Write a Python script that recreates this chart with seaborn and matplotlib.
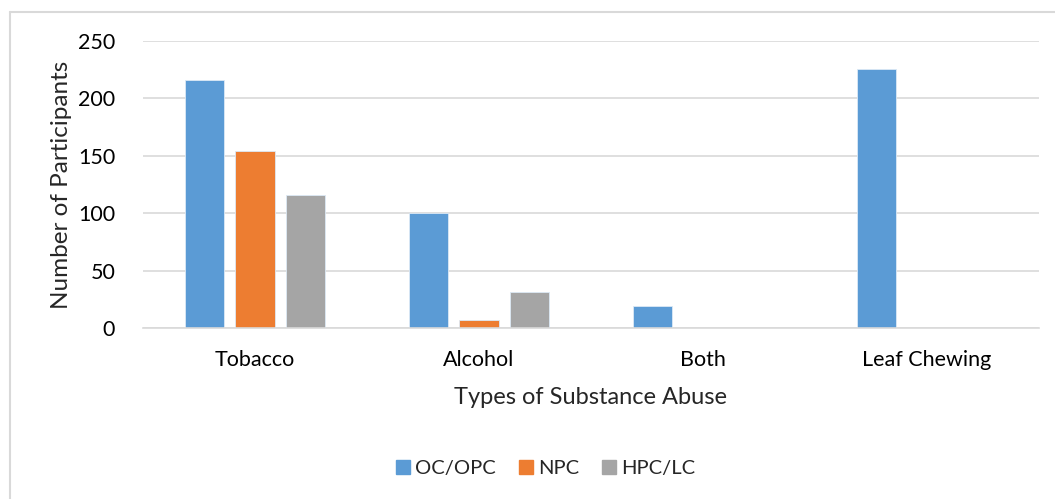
import numpy as np
import pandas as pd
import matplotlib
matplotlib.use("Agg")
import matplotlib.pyplot as plt
from matplotlib.lines import Line2D
import seaborn as sns

# chart values
categories = ["Tobacco", "Alcohol", "Both", "Leaf Chewing"]
groups = ["OC/OPC", "NPC", "HPC/LC"]
oc_opc = [216, 100, 19, 226]
npc = [154, 7, 0, 0]
hpc_lc = [116, 31, 0, 0]
colors = ["#5B9BD5", "#ED7D31", "#A5A5A5"]

df = pd.DataFrame({
    "type": categories * 3,
    "group": [g for g in groups for _ in categories],
    "count": oc_opc + npc + hpc_lc,
})

sns.set_style("white")
plt.rcParams["font.family"] = ["Lato", "DejaVu Sans"]

fig = plt.figure(figsize=(10.55, 4.99), dpi=100)
ax = fig.add_axes([143 / 1055, 1 - 328 / 499, 896 / 1055, 287 / 499])

sns.barplot(data=df, x="type", y="count", hue="group", palette=colors,
            saturation=1, width=0.67, gap=0.22, edgecolor="#DCE9F5",
            linewidth=0.6, ax=ax, legend=False)

ax.set_ylim(0, 250)
ax.set_xlim(-0.5, 3.5)
ax.set_yticks(range(0, 251, 50))
ax.yaxis.grid(True, color="#D9D9D9", linewidth=1.2)
ax.set_axisbelow(True)
for s in ["left", "right", "top"]:
    ax.spines[s].set_visible(False)
ax.spines["bottom"].set_color("#D9D9D9")
ax.spines["bottom"].set_linewidth(1.2)
ax.tick_params(axis="both", length=0, labelsize=15.5, colors="black")
ax.tick_params(axis="y", pad=20)
ax.tick_params(axis="x", pad=16)

ax.set_xlabel("Types of Substance Abuse", fontsize=17, labelpad=12)
ax.set_ylabel("Number of Participants", fontsize=17.5, labelpad=4)

handles = [Line2D([], [], marker="s", linestyle="", markersize=10,
                  markerfacecolor=c, markeredgecolor=c) for c in colors]
fig.legend(handles, groups, loc="center", bbox_to_anchor=(544 / 1055, 1 - 468 / 499),
           ncol=3, frameon=False, fontsize=14.5, handletextpad=0.1,
           columnspacing=1.0, handlelength=1.0)

# outer chart border
fig.add_artist(Line2D([10 / 1055, 1], [1 - 12 / 499, 1 - 12 / 499],
                      transform=fig.transFigure, color="#D9D9D9", linewidth=1.5))
fig.add_artist(Line2D([10 / 1055, 10 / 1055], [0, 1 - 12 / 499],
                      transform=fig.transFigure, color="#D9D9D9", linewidth=1.5))

fig.savefig("out.png", dpi=100, facecolor="white")
